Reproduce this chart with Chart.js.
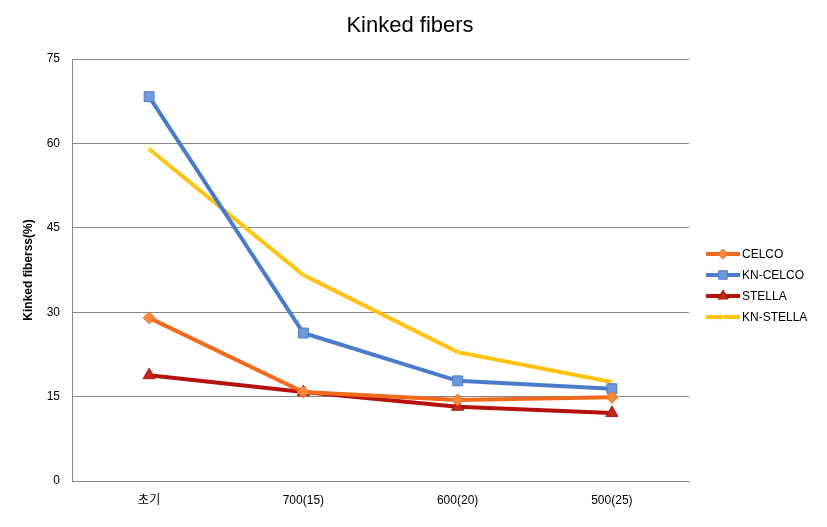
<!DOCTYPE html>
<html><head><meta charset="utf-8">
<script src="https://cdn.jsdelivr.net/npm/chart.js@4/dist/chart.umd.min.js"></script>
<style>html,body{margin:0;padding:0;background:#fff}#wrap{width:827px;height:527px}</style>
</head><body><div id="wrap"><canvas id="c" width="827" height="527"></canvas></div>
<script>
const categories = ['초기', '700(15)', '600(20)', '500(25)'];
const celco = [29.0, 15.8, 14.4, 14.9];
const knCelco = [68.3, 26.3, 17.8, 16.4];
const stella = [18.8, 15.8, 13.2, 12.1];
const knStella = [59.0, 36.6, 22.9, 17.6];
const yTicks = [0, 15, 30, 45, 60, 75];
const seriesNames = ['CELCO', 'KN-CELCO', 'STELLA', 'KN-STELLA'];
const chartTitle = 'Kinked fibers';

const FONT = '"Liberation Sans", "Noto Sans CJK KR", sans-serif';

const styles = [
  {line:'#F26B1D', fill:'#F58A3C', point:'rectRot', r:6},
  {line:'#4A7BCB', fill:'#6F97DC', point:'rect', r:7},
  {line:'#B5120E', fill:'#C0281E', point:'triangle', r:7},
  {line:'#FFC20E', fill:'#FFD24A', point:'crossRot', r:6}
];
const values = [celco, knCelco, stella, knStella];

const datasets = values.map((v,i)=>({
  label: seriesNames[i],
  data: v,
  borderColor: styles[i].line,
  backgroundColor: styles[i].fill,
  borderWidth: 4,
  pointStyle: styles[i].point,
  pointRadius: styles[i].r,
  pointHoverRadius: styles[i].r,
  pointBackgroundColor: styles[i].fill,
  pointBorderColor: i===3 ? '#FFE070' : styles[i].line,
  pointBorderWidth: 1,
  tension: 0,
  fill: false
}));

const legendPlugin = {
  id: 'customLegend',
  afterDraw(chart) {
    const ctx = chart.ctx;
    ctx.save();
    // title
    ctx.fillStyle = '#000';
    ctx.font = '22px ' + FONT;
    ctx.textAlign = 'center';
    ctx.textBaseline = 'middle';
    ctx.fillText(chartTitle, 410, 26);
    // legend
    const x0 = 706, y0 = 254, dy = 21;
    chart.data.datasets.forEach((ds, i) => {
      const y = y0 + i*dy;
      ctx.strokeStyle = ds.borderColor;
      ctx.lineWidth = 4;
      ctx.beginPath(); ctx.moveTo(x0, y); ctx.lineTo(x0+34, y); ctx.stroke();
      const cx = x0+17;
      ctx.fillStyle = ds.pointBackgroundColor;
      ctx.strokeStyle = ds.pointBorderColor;
      ctx.lineWidth = 1;
      Chart.helpers.drawPoint(ctx, {pointStyle: ds.pointStyle, radius: ds.pointRadius-1, borderWidth:1}, cx, y);
      ctx.fillStyle = '#000';
      ctx.font = '12px ' + FONT;
      ctx.textBaseline = 'middle';
      ctx.textAlign = 'left';
      ctx.fillText(ds.label, x0+36, y+1);
    });
    ctx.restore();
  }
};

new Chart(document.getElementById('c'), {
  type: 'line',
  data: { labels: categories, datasets },
  options: {
    responsive: false,
    animation: false,
    devicePixelRatio: 1,
    layout: { padding: { left: 21, right: 138, top: 59, bottom: 0 } },
    plugins: {
      legend: { display: false },
      tooltip: { enabled: false },
      title: { display: false }
    },
    scales: {
      x: {
        offset: true,
        grid: { display: false, drawTicks: false },
        border: { display: true, color: '#888', width: 1 },
        ticks: { color: '#000', font: { family: FONT, size: 12 }, padding: 12 },
        afterFit(s) { s.height = 46; }
      },
      y: {
        min: 0, max: 75,
        afterBuildTicks(s) { s.ticks = yTicks.map(v => ({ value: v })); },
        grid: { color: '#888', lineWidth: 1, drawTicks: false },
        border: { display: true, color: '#888', width: 1 },
        ticks: { color: '#000', font: { family: FONT, size: 12 }, padding: 12 },
        title: {
          display: true,
          text: 'Kinked fiberss(%)',
          color: '#000',
          font: { family: FONT, size: 12, weight: 'bold' },
          padding: { top: 0, bottom: 6 }
        },
        afterFit(s) { s.width = 51; }
      }
    }
  },
  plugins: [legendPlugin]
});
</script></body></html>
